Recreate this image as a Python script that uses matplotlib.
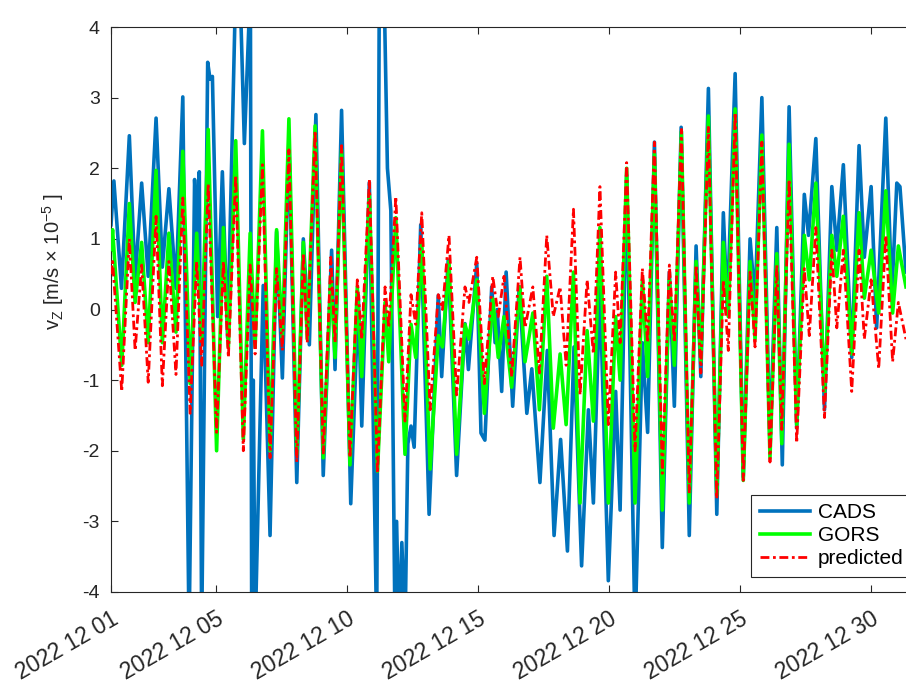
import numpy as np
import matplotlib
matplotlib.use("Agg")
import matplotlib.pyplot as plt
import matplotlib.dates as mdates

# ---------------- data ----------------
start = np.datetime64("2022-12-01T00:00")

# extremes times (days after 2022-12-01) shared by GORS and predicted
t_days = [0.00, 0.06, 0.41, 0.70, 0.92, 1.17, 1.42, 1.72, 1.96, 2.21, 2.48, 2.74, 3.02, 3.27, 3.46, 3.71,
          4.03, 4.29, 4.48, 4.76, 5.05, 5.31, 5.50, 5.78, 6.07, 6.32, 6.54, 6.79, 7.09, 7.34,
          7.49, 7.79, 8.10, 8.39, 8.55, 8.80, 9.12, 9.40, 9.57, 9.86, 10.17, 10.46, 10.60, 10.87,
          11.22, 11.45, 11.63, 11.86, 12.18, 12.49, 12.65, 12.90, 13.19, 13.51, 13.66, 13.96, 14.25, 14.57,
          14.78, 15.00, 15.29, 15.61, 15.80, 16.10, 16.35, 16.63, 16.88, 17.14, 17.37, 17.65, 17.90, 18.17,
          18.41, 18.66, 18.98, 19.26, 19.43, 19.68, 20.00, 20.28, 20.48, 20.74, 21.04, 21.31, 21.50, 21.77,
          22.07, 22.33, 22.51, 22.80, 23.12, 23.37, 23.56, 23.82, 24.13, 24.39, 24.58, 24.84, 25.15, 25.41,
          25.60, 25.88, 26.17, 26.46, 26.65, 26.90, 27.23, 27.51, 27.70, 27.95, 28.27, 28.55, 28.75, 29.01,
          29.30, 29.57, 29.83, 30.05, 30.34]

predicted = [0.50, 0.68, -1.16, 1.00, -0.58, 0.63, -1.03, 1.32, -1.08, 0.68, -0.92, 1.58, -1.47, 0.68, -0.79, 1.78,
             -1.74, 0.68, -0.68, 1.90, -2.00, 0.63, -0.63, 2.05, -2.10, 0.58, -0.58, 2.26, -2.16, 0.80,
             -0.47, 2.53, -2.05, 0.74, -0.47, 2.32, -2.10, 0.42, -0.42, 1.84, -2.32, 0.32, -0.26, 1.60,
             -1.58, 0.21, -0.21, 1.37, -1.42, 0.21, 0.00, 1.05, -1.21, 0.32, 0.10, 0.74, -1.05, 0.47,
             -0.10, 0.47, -0.95, 0.74, -0.26, 0.32, -0.90, 1.05, -0.10, 0.32, -0.79, 1.42, -1.21, 0.42,
             -0.63, 1.74, -1.63, 0.53, -0.47, 2.08, -2.00, 0.58, -0.47, 2.37, -2.32, 0.63, -0.47, 2.55,
             -2.60, 0.63, -0.90, 2.58, -2.68, 0.42, -0.58, 2.79, -2.42, 0.53, -0.53, 2.37, -2.16, 0.63,
             -1.70, 1.84, -1.89, 0.58, -0.37, 1.16, -1.53, 0.84, -0.26, 0.84, -1.16, 0.84, -0.42, 0.42,
             -0.84, 1.05, -0.74, 0.10, -0.42]

gors = [0.85, 1.13, -0.79, 1.50, 0.10, 0.95, -0.47, 1.97, -0.47, 1.08, -0.32, 2.24, -1.05, 1.08, -0.42, 2.55,
        -2.00, 1.16, -0.53, 2.39, -1.84, 1.08, -0.53, 2.53, -2.00, 1.13, -0.42, 2.70, -2.05, 0.95,
        -0.42, 2.60, -2.10, 0.47, -0.68, 2.26, -2.20, 0.32, -0.95, 1.63, -2.29, 0.10, -0.74, 1.30,
        -2.05, -0.21, -0.68, 0.95, -2.26, -0.37, -0.53, 0.68, -2.05, -0.21, -0.42, 0.42, -1.47, 0.15,
        -0.68, -0.10, -1.10, 0.32, -0.74, -0.05, -1.42, 0.47, -1.68, -0.63, -1.63, 0.53, -2.74, -0.30,
        -1.58, 1.16, -2.74, -0.10, -1.00, 2.00, -2.74, 0.42, -0.95, 2.21, -2.84, 0.42, -0.79, 2.52,
        -2.74, 0.68, -0.74, 2.74, -2.63, 0.95, -0.10, 2.84, -2.42, 0.68, -0.42, 2.47, -2.10, 0.79,
        -1.90, 2.34, -1.63, 1.05, 0.42, 1.79, -1.16, 1.05, 0.47, 1.32, -0.63, 1.37, 0.16, 0.84,
        -0.05, 1.68, -0.05, 0.90, 0.32]

# CADS has its own extremes (incl. off-scale spikes)
t_cads_days = [0.00, 0.11, 0.40, 0.70, 0.92, 1.17, 1.42, 1.72, 1.96, 2.21, 2.48, 2.74, 2.98, 3.19, 3.29, 3.37,
               3.46, 3.69, 3.78, 3.87, 4.07, 4.25, 4.45, 4.76, 4.92, 5.09, 5.22, 5.32, 5.37, 5.43, 5.50,
               5.81, 6.07, 6.32, 6.54, 6.79, 7.09, 7.34, 7.57, 7.82, 8.10, 8.42, 8.55, 8.80, 9.15, 9.44,
               9.57, 9.86, 10.14, 10.24, 10.42, 10.55, 10.68, 10.84, 10.90, 10.99, 11.10, 11.22, 11.33,
               11.45, 11.57, 11.82, 12.14, 12.49, 12.62, 12.87, 13.19, 13.51, 13.64, 13.96, 14.12, 14.27,
               14.53, 14.66, 14.74, 14.91, 15.08, 15.33, 15.58, 15.87, 16.06, 16.37, 16.65, 16.91, 17.16,
               17.42, 17.67, 17.96, 18.22, 18.41, 18.66, 18.98, 19.26, 19.43, 19.68, 20.00, 20.28, 20.48,
               20.74, 21.04, 21.31, 21.50, 21.76, 22.07, 22.33, 22.51, 22.80, 23.12, 23.37, 23.52, 23.82,
               24.13, 24.39, 24.58, 24.84, 25.15, 25.41, 25.62, 25.88, 26.17, 26.46, 26.62, 26.90, 27.23,
               27.51, 27.70, 27.95, 28.27, 28.55, 28.75, 29.01, 29.22, 29.57, 29.80, 29.99, 30.11, 30.34]

cads = [1.20, 1.82, 0.30, 2.46, 0.42, 1.79, 0.47, 2.71, 0.60, 1.71, 0.30, 3.01, -4.60, 1.84, 1.05, 1.95,
        -4.60, 3.50, 3.26, 3.30, -0.10, 1.95, -0.40, 4.60, 4.60, 2.35, 3.60, 4.60, -4.60, -1.00, -4.60,
        0.34, -3.20, 1.10, -0.97, 2.40, -2.45, 1.00, -0.50, 2.76, -2.35, 0.84, -0.85, 2.82, -2.75, 0.20,
        -1.65, 1.80, -4.60, 4.60, 4.60, 2.00, 1.40, -4.60, -3.00, -4.60, -3.30, -4.60, -1.90,
        -1.65, -1.95, 1.20, -2.90, 0.20, -0.95, 0.70, -2.35, -0.20, -0.85, 0.65, -1.75, -1.85,
        0.32, -0.47, 0.00, -1.16, 0.53, -1.37, 0.32, -1.47, -0.84, -2.45, -0.58, -3.20, -1.84,
        -3.42, -0.53, -3.63, -1.42, -2.74, 0.32, -3.84, -1.16, -2.84, 1.90, -4.60, -0.47, -1.74,
        2.37, -3.37, 0.53, -1.37, 2.58, -3.20, 0.90, -0.95, 3.13, -2.90, 1.37, 0.00, 3.34,
        -2.37, 1.00, 0.10, 3.00, -1.95, 1.16, -2.20, 2.87, -1.68, 1.63, 1.05, 2.42, -1.42,
        1.74, 0.84, 2.05, -0.68, 2.32, 0.74, 1.74, -0.26, 2.71, 0.21, 1.79, 1.74, 0.53]

tick_days = [0, 4, 9, 14, 19, 24, 29]
y_ticks = [-4, -3, -2, -1, 0, 1, 2, 3, 4]
x_end_days = 30.57


def to_time(days):
    return start + (np.asarray(days) * 86400).astype("timedelta64[s]")


t_rg = to_time(t_days)
t_cads = to_time(t_cads_days)

# ---------------- figure ----------------
plt.rcParams["font.family"] = ["Liberation Sans", "DejaVu Sans"]
plt.rcParams["mathtext.default"] = "regular"

W, H = 906, 683
fig = plt.figure(figsize=(W / 100, H / 100), dpi=100)
left, right, top, bottom = 111, 912, 27, 592
ax = fig.add_axes([left / W, 1 - bottom / H, (right - left) / W, (bottom - top) / H])

ax.plot(t_cads, cads, color="#0072BD", lw=2.6, label="CADS", zorder=2)
ax.plot(t_rg, gors, color="#00FF00", lw=2.6, label="GORS", zorder=3)
ax.plot(t_rg, predicted, color="#FF0000", lw=2.0, dashes=(3.2, 1.3, 1.0, 1.3),
        label="predicted", zorder=4)

ax.set_ylim(-4, 4)
ax.set_xlim(to_time(0), to_time(x_end_days))
ax.set_yticks(y_ticks)
ax.set_yticklabels([str(v) for v in y_ticks])
ax.set_xticks(to_time(tick_days))
ax.xaxis.set_major_formatter(mdates.DateFormatter("%Y %m %d"))

ax.tick_params(axis="both", direction="in", colors="#262626",
               length=5, width=0.8, top=True, right=False)
ax.tick_params(axis="y", labelsize=14, pad=8)
ax.tick_params(axis="x", labelsize=16.5, pad=11)
for lab in ax.get_xticklabels():
    lab.set_rotation(30)
    lab.set_ha("right")
    lab.set_va("top")
    lab.set_rotation_mode("anchor")

for s in ["left", "bottom", "top"]:
    ax.spines[s].set_color("#262626")
    ax.spines[s].set_linewidth(0.8)
ax.spines["right"].set_visible(False)

ax.set_ylabel("v$_{Z}$ [m/s $\\times$ 10$^{-5}$ ]", fontsize=14.5, color="#262626")
ax.yaxis.set_label_coords(-0.056, 0.585)

leg = ax.legend(loc="lower right", bbox_to_anchor=(1.0, 0.027), fontsize=15,
                frameon=True, fancybox=False, edgecolor="#262626", framealpha=1,
                handlelength=2.4, labelspacing=0.2, borderpad=0.4, handletextpad=0.4,
                borderaxespad=0.0)
leg.get_frame().set_linewidth(0.8)

fig.savefig("out.png", dpi=100)
